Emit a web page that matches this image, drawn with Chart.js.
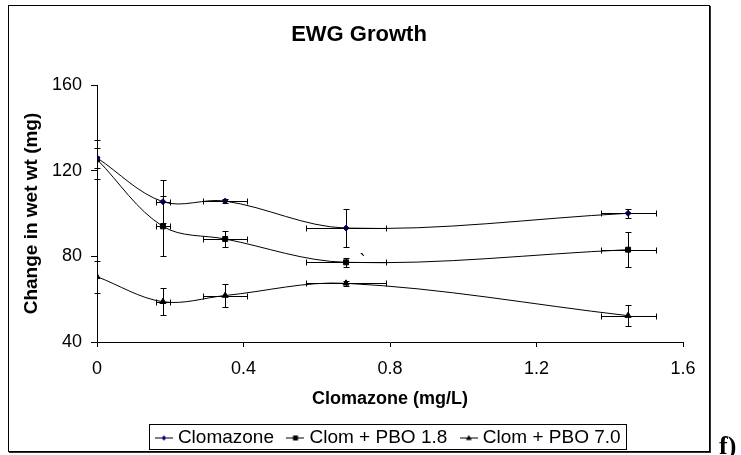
<!DOCTYPE html>
<html><head><meta charset="utf-8">
<script src="https://cdn.jsdelivr.net/npm/chart.js@4.4.1/dist/chart.umd.min.js"></script>
<style>
html,body{margin:0;padding:0;background:#fff;overflow:hidden;width:741px;height:455px;}
#wrap{position:absolute;left:0;top:0;width:741px;height:460px;}
#frame{position:absolute;left:8px;top:5px;width:700px;height:445px;border:1px solid #000;box-shadow:1px 1px 0 #333;pointer-events:none;}
#tag{position:absolute;left:719px;top:433px;font:bold 26px "Liberation Serif","Times New Roman",serif;color:#000;line-height:26px;}
</style></head><body>
<div id="wrap"><canvas id="c"></canvas></div>
<div id="frame"></div>
<div id="tag">f)</div>
<script>
// ---- data ----
const xValues = [0, 0.18, 0.35, 0.68, 1.45];
const xErrors = [0, 0.018, 0.06, 0.108, 0.075];
const clomazone = [126, 105.5, 105.8, 93.2, 100.1];
const clomazoneErr = [4.8, 10, 1.1, 9, 2.2];
const pbo18 = [125.3, 94, 88.1, 77.2, 83.1];
const pbo18Err = [9, 14, 3.9, 2, 8.3];
const pbo70 = [70.5, 58.8, 61.7, 67.4, 52.3];
const pbo70Err = [7.5, 6.4, 5.5, 1.1, 4.8];
const seriesNames = ['Clomazone', 'Clom + PBO 1.8', 'Clom + PBO 7.0'];
const xTicks = [0, 0.4, 0.8, 1.2, 1.6];
const yTicks = [40, 80, 120, 160];
const chartTitle = 'EWG Growth';
const xTitle = 'Clomazone (mg/L)';
const yTitle = 'Change in wet wt (mg)';
const strayText = '`';
const strayX = [0.725];
const strayY = [75];

const seriesValues = [clomazone, pbo18, pbo70];
const seriesErrors = [clomazoneErr, pbo18Err, pbo70Err];

Chart.defaults.font.family = '"Liberation Sans", Arial, sans-serif';
Chart.defaults.color = '#000';

function makeIcon(kind) {
  const c = document.createElement('canvas');
  c.width = 18; c.height = 9;
  const g = c.getContext('2d');
  g.strokeStyle = '#000'; g.lineWidth = 1;
  g.beginPath(); g.moveTo(0, 4.5); g.lineTo(18, 4.5); g.stroke();
  g.beginPath();
  if (kind === 'diamond') {
    g.fillStyle = '#000080';
    g.moveTo(9, 2); g.lineTo(11.5, 4.5); g.lineTo(9, 7); g.lineTo(6.5, 4.5);
  } else if (kind === 'square') {
    g.fillStyle = '#000';
    g.rect(6.5, 2, 5, 5);
  } else {
    g.fillStyle = '#000';
    g.moveTo(9, 1.5); g.lineTo(12, 6.5); g.lineTo(6, 6.5);
  }
  g.closePath(); g.fill();
  return c;
}
const legendIcons = [makeIcon('diamond'), makeIcon('square'), makeIcon('triangle')];

const errorBars = {
  id: 'errorBars',
  afterDatasetsDraw(chart) {
    const {ctx} = chart;
    const xs = chart.scales.x, ys = chart.scales.y;
    const cap = 3;
    ctx.save();
    ctx.strokeStyle = '#000';
    ctx.lineWidth = 1;
    seriesValues.forEach((arr, s) => {
      arr.forEach((v, i) => {
        const px = Math.round(xs.getPixelForValue(xValues[i])) + 0.5;
        const py = Math.round(ys.getPixelForValue(v)) + 0.5;
        const e = seriesErrors[s][i];
        ctx.beginPath();
        if (e > 0) {
          const y1 = Math.round(ys.getPixelForValue(v + e)) + 0.5;
          const y2 = Math.round(ys.getPixelForValue(v - e)) + 0.5;
          ctx.moveTo(px, y1); ctx.lineTo(px, y2);
          ctx.moveTo(px - cap, y1); ctx.lineTo(px + cap, y1);
          ctx.moveTo(px - cap, y2); ctx.lineTo(px + cap, y2);
        }
        const xe = xErrors[i];
        if (xe > 0) {
          const x1 = Math.round(xs.getPixelForValue(xValues[i] - xe)) + 0.5;
          const x2 = Math.round(xs.getPixelForValue(xValues[i] + xe)) + 0.5;
          ctx.moveTo(x1, py); ctx.lineTo(x2, py);
          ctx.moveTo(x1, py - cap); ctx.lineTo(x1, py + cap);
          ctx.moveTo(x2, py - cap); ctx.lineTo(x2, py + cap);
        }
        ctx.stroke();
      });
    });
    ctx.font = '18px "Liberation Sans", Arial, sans-serif';
    ctx.fillStyle = '#000';
    ctx.textAlign = 'center';
    ctx.textBaseline = 'alphabetic';
    strayX.forEach((sx, i) => {
      ctx.fillText(strayText, xs.getPixelForValue(sx), ys.getPixelForValue(strayY[i]));
    });
    ctx.restore();
  }
};

const legendFrame = {
  id: 'legendFrame',
  afterDraw(chart) {
    const hb = chart.legend && chart.legend.legendHitBoxes;
    if (!hb || !hb.length) return;
    const first = hb[0], last = hb[hb.length - 1];
    const left = Math.round(first.left - 4.5 - 6) + 0.5;
    const right = Math.round(last.left + last.width + 5) + 0.5;
    const cy = first.top + first.height / 2;
    const top = Math.round(cy - 14) + 0.5;
    const ctx = chart.ctx;
    ctx.save();
    ctx.strokeStyle = '#000';
    ctx.lineWidth = 1;
    ctx.strokeRect(left, top, right - left, 25);
    ctx.restore();
  }
};

function makeSeries(i, style, radius, color) {
  return {
    label: seriesNames[i],
    data: xValues.map((x, k) => ({x: x, y: seriesValues[i][k]})),
    borderColor: '#000',
    borderWidth: 1,
    backgroundColor: color,
    pointStyle: style,
    pointRadius: radius,
    pointBorderColor: color,
    pointBackgroundColor: color,
    pointBorderWidth: 1,
    tension: 0.35,
    fill: false,
    yAxisID: 'y'
  };
}

new Chart(document.getElementById('c'), {
  type: 'line',
  data: {
    datasets: [
      makeSeries(0, 'rectRot', 3, '#000080'),
      makeSeries(1, 'rect', 3.5, '#000'),
      makeSeries(2, 'triangle', 3.5, '#000')
    ]
  },
  options: {
    responsive: true,
    maintainAspectRatio: false,
    animation: false,
    devicePixelRatio: 1,
    layout: { padding: { left: 10, right: 33, top: 0, bottom: 2.5 } },
    scales: {
      x: {
        type: 'linear', min: 0, max: 1.6,
        afterBuildTicks: s => { s.ticks = xTicks.map(v => ({value: v})); },
        ticks: { font: {size: 18}, color: '#000', padding: 11.5, maxRotation: 0, callback: v => String(v) },
        grid: { display: true, drawOnChartArea: false, drawTicks: true, tickLength: 5, color: '#000' },
        border: { display: true, color: '#000', width: 1 },
        title: { display: true, text: xTitle, font: {size: 18, weight: 'bold'}, color: '#000', padding: {top: 0, bottom: 1.7} },
        afterFit: s => { s.height = 69.5; }
      },
      y: {
        type: 'linear', position: 'left', min: 40, max: 160,
        afterBuildTicks: s => { s.ticks = yTicks.map(v => ({value: v})); },
        ticks: { font: {size: 18}, color: '#000', padding: 9 },
        grid: { display: true, drawOnChartArea: false, drawTicks: true, tickLength: 6, color: '#000' },
        border: { display: true, color: '#000', width: 1 },
        title: { display: true, text: yTitle, font: {size: 19, weight: 'bold'}, color: '#000', padding: {top: 10.2, bottom: 0} },
        afterFit: s => { s.width = 87; }
      },
      rightSpace: {
        type: 'linear', position: 'right', display: true,
        ticks: { display: false },
        grid: { display: false, drawTicks: false },
        border: { display: false },
        title: { display: false },
        afterFit: s => { s.width = 25; }
      }
    },
    plugins: {
      title: { display: true, text: chartTitle, font: {size: 22, weight: 'bold'}, color: '#000', padding: {top: 21.5, bottom: 37.1} },
      legend: {
        display: true, position: 'bottom', fullSize: false,
        labels: {
          font: {size: 19}, color: '#000', padding: 17,
          usePointStyle: true, pointStyleWidth: 9,
          generateLabels: chart => {
            const items = Chart.defaults.plugins.legend.labels.generateLabels(chart);
            items.forEach((it, i) => { it.pointStyle = legendIcons[i]; });
            return items;
          }
        }
      },
      tooltip: { enabled: false }
    }
  },
  plugins: [errorBars, legendFrame]
});
</script>
</body></html>
